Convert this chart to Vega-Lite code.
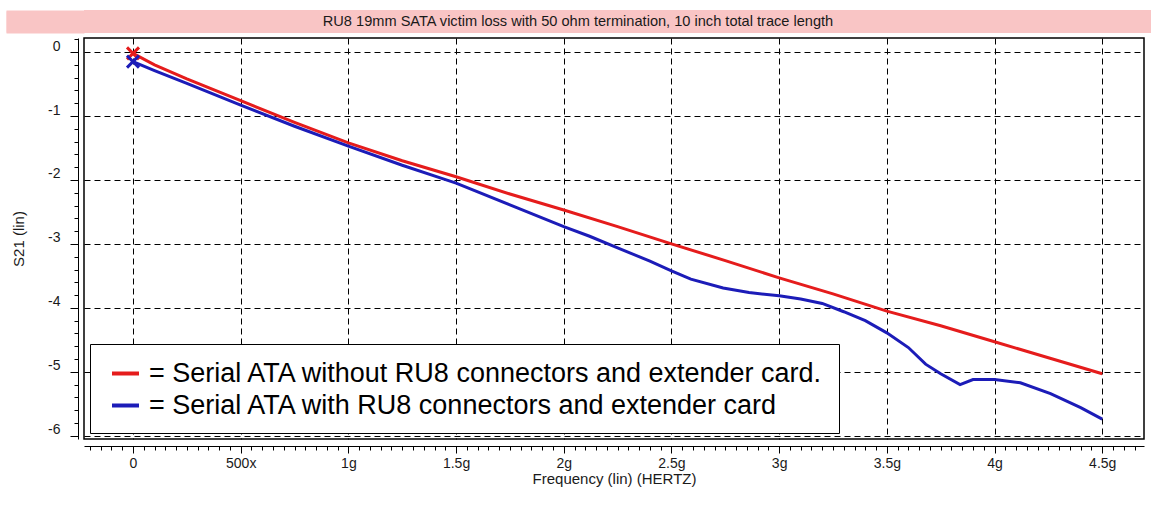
{
  "$schema": "https://vega.github.io/schema/vega-lite/v6.json",
  "background": "white",
  "padding": {"left": 4, "top": 10, "right": 1, "bottom": 4},
  "spacing": 4,
  "resolve": {"scale": {"color": "independent", "y": "independent"}, "legend": {"color": "independent"}},
  "config": {
    "font": "Liberation Sans",
    "axis": {"labelFont": "Liberation Sans", "titleFont": "Liberation Sans", "tickColor": "black", "domainColor": "black", "labelColor": "#1a1a1a", "titleColor": "#1a1a1a", "titleFontWeight": "normal", "tickWidth": 1, "domainWidth": 1}
  },
  "vconcat": [
    {
      "width": 1067,
      "height": 23,
      "view": {"fill": "#f9c5c5", "stroke": null},
      "data": {"values": [{"t": "RU8 19mm SATA victim loss with 50 ohm termination, 10 inch total trace length"}]},
      "mark": {"type": "text", "fontSize": 14.6, "font": "Liberation Sans", "color": "#1a1a1a", "dx": -39.5},
      "encoding": {
        "text": {"field": "t", "type": "nominal"},
        "y": {"datum": 11.5, "type": "quantitative", "scale": {"domain": [0, 23], "nice": false, "zero": false},
          "axis": {"orient": "left", "values": [1, 2, 3, 4, 5, 6, 7, 8, 9, 10, 11, 12, 13, 14, 15, 16, 17, 18, 19, 20, 21, 22], "tickSize": 78, "tickWidth": 2, "tickColor": "#f9c5c5", "labels": false, "domain": false, "grid": false, "title": null, "offset": 0}}
      }
    },
    {
      "width": 1060,
      "height": 401,
      "view": {"fill": "white", "stroke": "black", "strokeWidth": 1.5},
      "data": {"values": [
        {"f": 0, "s": -0.02, "series": "= Serial ATA without RU8 connectors and extender card."},
        {"f": 0.1, "s": -0.2, "series": "= Serial ATA without RU8 connectors and extender card."},
        {"f": 0.25, "s": -0.42, "series": "= Serial ATA without RU8 connectors and extender card."},
        {"f": 0.5, "s": -0.76, "series": "= Serial ATA without RU8 connectors and extender card."},
        {"f": 0.75, "s": -1.1, "series": "= Serial ATA without RU8 connectors and extender card."},
        {"f": 1.0, "s": -1.42, "series": "= Serial ATA without RU8 connectors and extender card."},
        {"f": 1.25, "s": -1.7, "series": "= Serial ATA without RU8 connectors and extender card."},
        {"f": 1.5, "s": -1.95, "series": "= Serial ATA without RU8 connectors and extender card."},
        {"f": 1.75, "s": -2.22, "series": "= Serial ATA without RU8 connectors and extender card."},
        {"f": 2.0, "s": -2.47, "series": "= Serial ATA without RU8 connectors and extender card."},
        {"f": 2.25, "s": -2.73, "series": "= Serial ATA without RU8 connectors and extender card."},
        {"f": 2.5, "s": -3.0, "series": "= Serial ATA without RU8 connectors and extender card."},
        {"f": 2.75, "s": -3.26, "series": "= Serial ATA without RU8 connectors and extender card."},
        {"f": 3.0, "s": -3.53, "series": "= Serial ATA without RU8 connectors and extender card."},
        {"f": 3.25, "s": -3.78, "series": "= Serial ATA without RU8 connectors and extender card."},
        {"f": 3.5, "s": -4.05, "series": "= Serial ATA without RU8 connectors and extender card."},
        {"f": 3.75, "s": -4.28, "series": "= Serial ATA without RU8 connectors and extender card."},
        {"f": 4.0, "s": -4.53, "series": "= Serial ATA without RU8 connectors and extender card."},
        {"f": 4.25, "s": -4.78, "series": "= Serial ATA without RU8 connectors and extender card."},
        {"f": 4.5, "s": -5.03, "series": "= Serial ATA without RU8 connectors and extender card."},
        {"f": 0, "s": -0.15, "series": "= Serial ATA with RU8 connectors and extender card"},
        {"f": 0.1, "s": -0.29, "series": "= Serial ATA with RU8 connectors and extender card"},
        {"f": 0.25, "s": -0.49, "series": "= Serial ATA with RU8 connectors and extender card"},
        {"f": 0.5, "s": -0.83, "series": "= Serial ATA with RU8 connectors and extender card"},
        {"f": 0.75, "s": -1.16, "series": "= Serial ATA with RU8 connectors and extender card"},
        {"f": 1.0, "s": -1.47, "series": "= Serial ATA with RU8 connectors and extender card"},
        {"f": 1.25, "s": -1.77, "series": "= Serial ATA with RU8 connectors and extender card"},
        {"f": 1.43, "s": -1.97, "series": "= Serial ATA with RU8 connectors and extender card"},
        {"f": 1.5, "s": -2.05, "series": "= Serial ATA with RU8 connectors and extender card"},
        {"f": 1.75, "s": -2.39, "series": "= Serial ATA with RU8 connectors and extender card"},
        {"f": 2.0, "s": -2.73, "series": "= Serial ATA with RU8 connectors and extender card"},
        {"f": 2.12, "s": -2.88, "series": "= Serial ATA with RU8 connectors and extender card"},
        {"f": 2.25, "s": -3.06, "series": "= Serial ATA with RU8 connectors and extender card"},
        {"f": 2.4, "s": -3.27, "series": "= Serial ATA with RU8 connectors and extender card"},
        {"f": 2.5, "s": -3.42, "series": "= Serial ATA with RU8 connectors and extender card"},
        {"f": 2.59, "s": -3.55, "series": "= Serial ATA with RU8 connectors and extender card"},
        {"f": 2.74, "s": -3.69, "series": "= Serial ATA with RU8 connectors and extender card"},
        {"f": 2.86, "s": -3.76, "series": "= Serial ATA with RU8 connectors and extender card"},
        {"f": 3.0, "s": -3.81, "series": "= Serial ATA with RU8 connectors and extender card"},
        {"f": 3.1, "s": -3.86, "series": "= Serial ATA with RU8 connectors and extender card"},
        {"f": 3.2, "s": -3.93, "series": "= Serial ATA with RU8 connectors and extender card"},
        {"f": 3.3, "s": -4.06, "series": "= Serial ATA with RU8 connectors and extender card"},
        {"f": 3.4, "s": -4.2, "series": "= Serial ATA with RU8 connectors and extender card"},
        {"f": 3.5, "s": -4.39, "series": "= Serial ATA with RU8 connectors and extender card"},
        {"f": 3.6, "s": -4.62, "series": "= Serial ATA with RU8 connectors and extender card"},
        {"f": 3.68, "s": -4.88, "series": "= Serial ATA with RU8 connectors and extender card"},
        {"f": 3.75, "s": -5.03, "series": "= Serial ATA with RU8 connectors and extender card"},
        {"f": 3.84, "s": -5.2, "series": "= Serial ATA with RU8 connectors and extender card"},
        {"f": 3.9, "s": -5.12, "series": "= Serial ATA with RU8 connectors and extender card"},
        {"f": 4.0, "s": -5.12, "series": "= Serial ATA with RU8 connectors and extender card"},
        {"f": 4.12, "s": -5.17, "series": "= Serial ATA with RU8 connectors and extender card"},
        {"f": 4.26, "s": -5.34, "series": "= Serial ATA with RU8 connectors and extender card"},
        {"f": 4.4, "s": -5.56, "series": "= Serial ATA with RU8 connectors and extender card"},
        {"f": 4.5, "s": -5.74, "series": "= Serial ATA with RU8 connectors and extender card"}
      ]},
      "resolve": {"axis": {"x": "independent", "y": "independent"}},
      "layer": [
        {
          "mark": {"type": "line", "strokeWidth": 3},
          "encoding": {
            "x": {"field": "f", "type": "quantitative", "scale": {"domain": [-0.2275, 4.694], "nice": false, "zero": false},
              "axis": {"orient": "bottom", "offset": 7, "values": [0, 0.5, 1, 1.5, 2, 2.5, 3, 3.5, 4, 4.5], "tickSize": 7,
                "labelExpr": "datum.value == 0 ? '0' : datum.value == 0.5 ? '500x' : datum.value + 'g'",
                "labelFontSize": 14, "labelPadding": 3, "labelFlush": false, "labelOverlap": false,
                "title": "Frequency (lin) (HERTZ)", "titleFontSize": 15, "titlePadding": 1,
                "grid": true, "gridColor": "black", "gridDash": [6, 4], "gridWidth": 1, "gridOpacity": 1}},
            "y": {"field": "s", "type": "quantitative", "scale": {"domain": [-6.05, 0.22], "nice": false, "zero": false},
              "axis": {"orient": "left", "offset": 6, "values": [0, -1, -2, -3, -4, -5, -6], "tickSize": 8,
                "labelExpr": "datum.value == 0 ? '0' : '-' + abs(datum.value)",
                "labelFontSize": 14, "labelPadding": 10, "labelOffset": -6, "labelFlush": false, "labelOverlap": false,
                "title": "S21 (lin)", "titleFontSize": 15, "titlePadding": 21,
                "grid": true, "gridColor": "black", "gridDash": [6, 4], "gridWidth": 1, "gridOpacity": 1}},
            "color": {"field": "series", "type": "nominal",
              "scale": {"domain": ["= Serial ATA without RU8 connectors and extender card.", "= Serial ATA with RU8 connectors and extender card"], "range": ["#e51c1c", "#1c1cb8"]},
              "legend": {"orient": "none", "legendX": 6, "legendY": 306, "title": null, "symbolType": "stroke", "symbolSize": 729, "symbolStrokeWidth": 4, "symbolOffset": 6,
                "labelFont": "Liberation Sans", "labelFontSize": 27, "labelColor": "black", "labelLimit": 1000, "labelOffset": 8,
                "padding": 14, "rowPadding": 3, "strokeColor": "black", "fillColor": "white"}}
          }
        },
        {
          "transform": [{"filter": "datum.f == 0"}],
          "mark": {"type": "point", "shape": "M-1,-1L1,1M-1,1L1,-1", "filled": false, "strokeWidth": 3, "size": 144, "opacity": 1},
          "encoding": {
            "x": {"field": "f", "type": "quantitative",
              "axis": {"orient": "bottom", "offset": 7, "tickSize": 4, "labels": false, "domain": false, "grid": false, "title": null,
                "values": [-0.2,-0.15,-0.1,-0.05,0,0.05,0.1,0.15,0.2,0.25,0.3,0.35,0.4,0.45,0.5,0.55,0.6,0.65,0.7,0.75,0.8,0.85,0.9,0.95,1,1.05,1.1,1.15,1.2,1.25,1.3,1.35,1.4,1.45,1.5,1.55,1.6,1.65,1.7,1.75,1.8,1.85,1.9,1.95,2,2.05,2.1,2.15,2.2,2.25,2.3,2.35,2.4,2.45,2.5,2.55,2.6,2.65,2.7,2.75,2.8,2.85,2.9,2.95,3,3.05,3.1,3.15,3.2,3.25,3.3,3.35,3.4,3.45,3.5,3.55,3.6,3.65,3.7,3.75,3.8,3.85,3.9,3.95,4,4.05,4.1,4.15,4.2,4.25,4.3,4.35,4.4,4.45,4.5,4.55,4.6,4.65]}},
            "y": {"field": "s", "type": "quantitative",
              "axis": {"orient": "left", "offset": 6, "tickSize": 4, "labels": false, "domain": false, "grid": false,
                "title": "S21 (lin)", "titleOpacity": 0, "titleFontSize": 10, "titleX": -63, "titleY": 200,
                "values": [0.2,0,-0.2,-0.4,-0.6,-0.8,-1,-1.2,-1.4,-1.6,-1.8,-2,-2.2,-2.4,-2.6,-2.8,-3,-3.2,-3.4,-3.6,-3.8,-4,-4.2,-4.4,-4.6,-4.8,-5,-5.2,-5.4,-5.6,-5.8,-6]}},
            "color": {"field": "series", "type": "nominal"}
          }
        }
      ]
    }
  ]
}
